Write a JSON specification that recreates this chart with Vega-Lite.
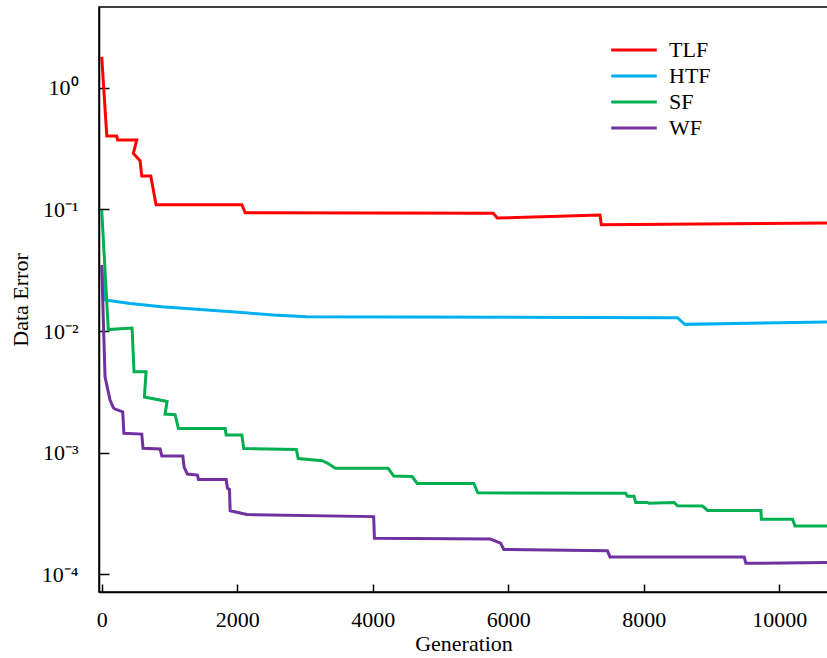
{
  "$schema": "https://vega.github.io/schema/vega-lite/v6.json",
  "width": 729,
  "height": 585,
  "autosize": {"type": "none"},
  "padding": {"left": 99, "top": 7, "right": 0, "bottom": 66},
  "background": "white",
  "view": {"stroke": "black", "strokeWidth": 1.5},
  "config": {
    "font": "Liberation Serif",
    "axis": {"grid": false, "domainColor": "black", "domainWidth": 1.5, "tickColor": "black", "tickWidth": 1.5, "labelFont": "Liberation Serif", "titleFont": "Liberation Serif", "labelColor": "black", "titleColor": "black", "titleFontWeight": "normal", "labelFontSize": 22, "titleFontSize": 22}
  },
  "data": {
    "values": [
      {"s": "TLF", "i": 1, "g": 0, "e": 1.80},
      {"s": "TLF", "i": 2, "g": 75, "e": 0.401},
      {"s": "TLF", "i": 3, "g": 220, "e": 0.401},
      {"s": "TLF", "i": 4, "g": 236, "e": 0.372},
      {"s": "TLF", "i": 5, "g": 517, "e": 0.372},
      {"s": "TLF", "i": 6, "g": 467, "e": 0.289},
      {"s": "TLF", "i": 7, "g": 566, "e": 0.2515},
      {"s": "TLF", "i": 8, "g": 591, "e": 0.188},
      {"s": "TLF", "i": 9, "g": 724, "e": 0.188},
      {"s": "TLF", "i": 10, "g": 802, "e": 0.1093},
      {"s": "TLF", "i": 11, "g": 2069, "e": 0.1093},
      {"s": "TLF", "i": 12, "g": 2118, "e": 0.0939},
      {"s": "TLF", "i": 13, "g": 5779, "e": 0.0929},
      {"s": "TLF", "i": 14, "g": 5838, "e": 0.0850},
      {"s": "TLF", "i": 15, "g": 7354, "e": 0.0899},
      {"s": "TLF", "i": 16, "g": 7375, "e": 0.0748},
      {"s": "TLF", "i": 17, "g": 10720, "e": 0.0773},
      {"s": "HTF", "i": 1, "g": 0, "e": 0.033},
      {"s": "HTF", "i": 2, "g": 50, "e": 0.0180},
      {"s": "HTF", "i": 3, "g": 418, "e": 0.01683},
      {"s": "HTF", "i": 4, "g": 887, "e": 0.01584},
      {"s": "HTF", "i": 5, "g": 1453, "e": 0.01503},
      {"s": "HTF", "i": 6, "g": 2118, "e": 0.01414},
      {"s": "HTF", "i": 7, "g": 2532, "e": 0.01354},
      {"s": "HTF", "i": 8, "g": 3030, "e": 0.01311},
      {"s": "HTF", "i": 9, "g": 8498, "e": 0.01287},
      {"s": "HTF", "i": 10, "g": 8606, "e": 0.01135},
      {"s": "HTF", "i": 11, "g": 10720, "e": 0.01186},
      {"s": "SF", "i": 1, "g": 0, "e": 0.0989},
      {"s": "SF", "i": 2, "g": 97, "e": 0.01029},
      {"s": "SF", "i": 3, "g": 448, "e": 0.01059},
      {"s": "SF", "i": 4, "g": 477, "e": 0.004628},
      {"s": "SF", "i": 5, "g": 655, "e": 0.004628},
      {"s": "SF", "i": 6, "g": 630, "e": 0.002865},
      {"s": "SF", "i": 7, "g": 965, "e": 0.002632},
      {"s": "SF", "i": 8, "g": 935, "e": 0.002077},
      {"s": "SF", "i": 9, "g": 1083, "e": 0.002050},
      {"s": "SF", "i": 10, "g": 1132, "e": 0.001584},
      {"s": "SF", "i": 11, "g": 1822, "e": 0.001584},
      {"s": "SF", "i": 12, "g": 1837, "e": 0.001396},
      {"s": "SF", "i": 13, "g": 2069, "e": 0.001396},
      {"s": "SF", "i": 14, "g": 2096, "e": 0.001081},
      {"s": "SF", "i": 15, "g": 2872, "e": 0.001064},
      {"s": "SF", "i": 16, "g": 2901, "e": 0.000894},
      {"s": "SF", "i": 17, "g": 3256, "e": 0.000858},
      {"s": "SF", "i": 18, "g": 3330, "e": 0.000821},
      {"s": "SF", "i": 19, "g": 3448, "e": 0.000743},
      {"s": "SF", "i": 20, "g": 4227, "e": 0.000743},
      {"s": "SF", "i": 21, "g": 4310, "e": 0.000642},
      {"s": "SF", "i": 22, "g": 4582, "e": 0.000636},
      {"s": "SF", "i": 23, "g": 4656, "e": 0.000559},
      {"s": "SF", "i": 24, "g": 5492, "e": 0.000559},
      {"s": "SF", "i": 25, "g": 5551, "e": 0.000468},
      {"s": "SF", "i": 26, "g": 7734, "e": 0.000463},
      {"s": "SF", "i": 27, "g": 7759, "e": 0.000439},
      {"s": "SF", "i": 28, "g": 7857, "e": 0.000439},
      {"s": "SF", "i": 29, "g": 7882, "e": 0.000390},
      {"s": "SF", "i": 30, "g": 8055, "e": 0.000390},
      {"s": "SF", "i": 31, "g": 8079, "e": 0.000383},
      {"s": "SF", "i": 32, "g": 8448, "e": 0.000390},
      {"s": "SF", "i": 33, "g": 8498, "e": 0.000366},
      {"s": "SF", "i": 34, "g": 8868, "e": 0.000364},
      {"s": "SF", "i": 35, "g": 8942, "e": 0.000335},
      {"s": "SF", "i": 36, "g": 9730, "e": 0.000335},
      {"s": "SF", "i": 37, "g": 9737, "e": 0.000284},
      {"s": "SF", "i": 38, "g": 10198, "e": 0.000283},
      {"s": "SF", "i": 39, "g": 10232, "e": 0.000249},
      {"s": "SF", "i": 40, "g": 10720, "e": 0.000249},
      {"s": "WF", "i": 1, "g": 0, "e": 0.0349},
      {"s": "WF", "i": 2, "g": 49, "e": 0.004210},
      {"s": "WF", "i": 3, "g": 123, "e": 0.002708},
      {"s": "WF", "i": 4, "g": 171, "e": 0.002349},
      {"s": "WF", "i": 5, "g": 196, "e": 0.002284},
      {"s": "WF", "i": 6, "g": 310, "e": 0.002169},
      {"s": "WF", "i": 7, "g": 327, "e": 0.001441},
      {"s": "WF", "i": 8, "g": 591, "e": 0.001422},
      {"s": "WF", "i": 9, "g": 610, "e": 0.001085},
      {"s": "WF", "i": 10, "g": 862, "e": 0.001071},
      {"s": "WF", "i": 11, "g": 887, "e": 0.000938},
      {"s": "WF", "i": 12, "g": 1197, "e": 0.000938},
      {"s": "WF", "i": 13, "g": 1216, "e": 0.000761},
      {"s": "WF", "i": 14, "g": 1265, "e": 0.000667},
      {"s": "WF", "i": 15, "g": 1413, "e": 0.000654},
      {"s": "WF", "i": 16, "g": 1428, "e": 0.000603},
      {"s": "WF", "i": 17, "g": 1837, "e": 0.000603},
      {"s": "WF", "i": 18, "g": 1856, "e": 0.000509},
      {"s": "WF", "i": 19, "g": 1886, "e": 0.000499},
      {"s": "WF", "i": 20, "g": 1896, "e": 0.000333},
      {"s": "WF", "i": 21, "g": 2143, "e": 0.000310},
      {"s": "WF", "i": 22, "g": 4014, "e": 0.000298},
      {"s": "WF", "i": 23, "g": 4025, "e": 0.000198},
      {"s": "WF", "i": 24, "g": 5739, "e": 0.000195},
      {"s": "WF", "i": 25, "g": 5887, "e": 0.000180},
      {"s": "WF", "i": 26, "g": 5936, "e": 0.000160},
      {"s": "WF", "i": 27, "g": 7464, "e": 0.000156},
      {"s": "WF", "i": 28, "g": 7502, "e": 0.000139},
      {"s": "WF", "i": 29, "g": 9483, "e": 0.000139},
      {"s": "WF", "i": 30, "g": 9508, "e": 0.000123},
      {"s": "WF", "i": 31, "g": 10720, "e": 0.000125}
    ]
  },
  "mark": {"type": "line", "strokeWidth": 3, "clip": true},
  "encoding": {
    "x": {
      "field": "g", "type": "quantitative",
      "scale": {"domain": [-40, 10720], "nice": false, "zero": false},
      "axis": {"title": "Generation", "values": [0, 2000, 4000, 6000, 8000, 10000], "format": "d", "tickSize": -8, "labelPadding": 25, "titlePadding": 3}
    },
    "y": {
      "field": "e", "type": "quantitative",
      "scale": {"type": "log", "domain": [0.0000715, 4.62], "nice": false},
      "axis": {"title": "Data Error", "values": [1, 0.1, 0.01, 0.001, 0.0001], "tickSize": -10, "labelPadding": 31, "titlePadding": 9,
        "labelExpr": "datum.value > 0.5 ? '10⁰' : datum.value > 0.05 ? '10⁻¹' : datum.value > 0.005 ? '10⁻²' : datum.value > 0.0005 ? '10⁻³' : '10⁻⁴'"}
    },
    "color": {
      "field": "s", "type": "nominal",
      "scale": {"domain": ["TLF", "HTF", "SF", "WF"], "range": ["#FF0000", "#00B0F0", "#00B050", "#7030A0"]},
      "legend": {"title": null, "orient": "none", "legendX": 524, "legendY": 32, "symbolType": "M-3,0H3", "symbolSize": 231, "symbolStrokeWidth": 3, "symbolFillColor": "transparent", "labelFontSize": 22, "labelFont": "Liberation Serif", "labelColor": "black", "labelOffset": 24, "padding": 0, "rowPadding": 4}
    },
    "order": {"field": "i", "type": "quantitative"}
  }
}
